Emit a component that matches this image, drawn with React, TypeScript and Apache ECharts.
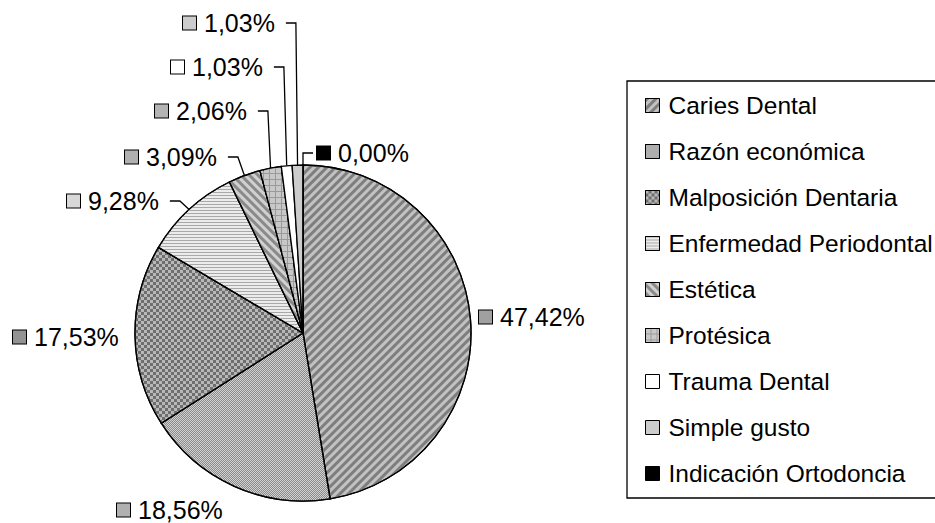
import { useEffect, useRef } from 'react';
import * as echarts from 'echarts';

// ---- data ----
const categories = [
  'Caries Dental',
  'Razón económica',
  'Malposición Dentaria',
  'Enfermedad Periodontal',
  'Estética',
  'Protésica',
  'Trauma Dental',
  'Simple gusto',
  'Indicación Ortodoncia',
];
const counts = [46, 18, 17, 9, 3, 2, 1, 1, 0];

// ---- styles ----
const baseColors = ['#c2c2c2', '#d2d2d2', '#b8b8b8', '#ececec', '#d0d0d0', '#9a9a9a', '#ffffff', '#cccccc', '#000000'];
const decalColors = ['#7e7e7e', '#8a8a8a', '#6e6e6e', '#a8a8a8', '#8a8a8a', '#c8c8c8', '', '', ''];
const swatches = ['#a0a0a0', '#b0b0b0', '#939393', '#d8d8d8', '#b0b0b0', '#b4b4b4', '#ffffff', '#cccccc', '#000000'];
// label anchor (left of icon, vertical middle) and leader side
const labelPos = [[479, 317], [117, 510], [13, 337], [67, 201], [125, 157], [155, 111], [171, 67], [183, 23], [317, 153]];
const leaderSide = ['none', 'none', 'none', 'left', 'left', 'left', 'left', 'left', 'right'];

const FONT = '"Liberation Sans", Arial, sans-serif';

function makeDecal(i: number): any {
  const c = decalColors[i];
  switch (i) {
    case 0:
      return { symbol: 'rect', dashArrayX: [1, 0], dashArrayY: [3, 3], rotation: -Math.PI / 4, color: c };
    case 1:
      return { symbol: 'rect', dashArrayX: [[1, 1], [0, 1, 1, 0]], dashArrayY: [1, 0], color: c };
    case 2:
      return { symbol: 'rect', dashArrayX: [[3, 3], [0, 3, 3, 0]], dashArrayY: [3, 0], color: c };
    case 3:
      return { symbol: 'rect', dashArrayX: [1, 0], dashArrayY: [1, 2], color: c };
    case 4:
      return { symbol: 'rect', dashArrayX: [1, 0], dashArrayY: [3, 3], rotation: Math.PI / 4, color: c };
    case 5:
      return { symbol: 'rect', dashArrayX: [5, 1], dashArrayY: [5, 1], color: c };
    default:
      return undefined;
  }
}

export default function App() {
  const ref = useRef<HTMLDivElement>(null);
  useEffect(() => {
    document.body.style.margin = '0';
    const chart = echarts.init(ref.current!, undefined, { renderer: 'svg' });
    const total = counts.reduce((a, b) => a + b, 0);
    const data = categories.map((name, i) => {
      const decal = makeDecal(i);
      const item: any = {
        name,
        value: counts[i],
        itemStyle: { color: baseColors[i] },
        label: {
          rich: {
            box: { width: 13, height: 13, backgroundColor: swatches[i], borderColor: '#000', borderWidth: 1 },
            t: { fontSize: 25, fontFamily: FONT, color: '#000', padding: [0, 0, 0, 8], lineHeight: 24 },
          },
        },
      };
      if (decal) item.itemStyle.decal = decal;
      if (leaderSide[i] === 'none') item.labelLine = { show: false };
      return item;
    });
    chart.setOption({
      animation: false,
      backgroundColor: '#fff',
      legend: {
        orient: 'vertical',
        left: 627,
        top: 81,
        itemWidth: 14,
        itemHeight: 14,
        itemGap: 21,
        icon: 'rect',
        padding: [12, 60, 12, 18],
        borderColor: '#000',
        borderWidth: 1.3,
        textStyle: { fontSize: 24.5, fontFamily: FONT, color: '#000', lineHeight: 24, padding: [0, 0, 0, 4] },
        itemStyle: { borderColor: '#000', borderWidth: 1 },
        data: categories,
      },
      series: [
        {
          type: 'pie',
          center: [303, 333],
          radius: 168,
          startAngle: 90,
          clockwise: true,
          avoidLabelOverlap: false,
          itemStyle: { borderColor: '#000', borderWidth: 1.3 },
          label: {
            show: true,
            position: 'outside',
            formatter: (p: any) => '{box| }{t|' + ((p.value / total) * 100).toFixed(2).replace('.', ',') + '%}',
          },
          labelLine: { show: true, lineStyle: { color: '#000', width: 1.3 } },
          labelLayout: (p: any) => {
            const i = p.dataIndex;
            const [lx, ly] = labelPos[i];
            const w = p.labelRect.width;
            const res: any = { x: lx, y: ly, align: 'left', verticalAlign: 'middle' };
            const pts = p.labelLinePoints;
            if (pts && leaderSide[i] !== 'none') {
              const a = pts[0];
              if (leaderSide[i] === 'left') {
                res.labelLinePoints = [a, [lx + w + 20, ly], [lx + w + 10, ly]];
              } else {
                res.labelLinePoints = [a, [lx - 14, ly], [lx - 4, ly]];
              }
            }
            return res;
          },
          emphasis: { disabled: true },
          data,
        },
      ],
    });
    return () => chart.dispose();
  }, []);
  return <div ref={ref} style={{ width: 935, height: 523 }} />;
}
